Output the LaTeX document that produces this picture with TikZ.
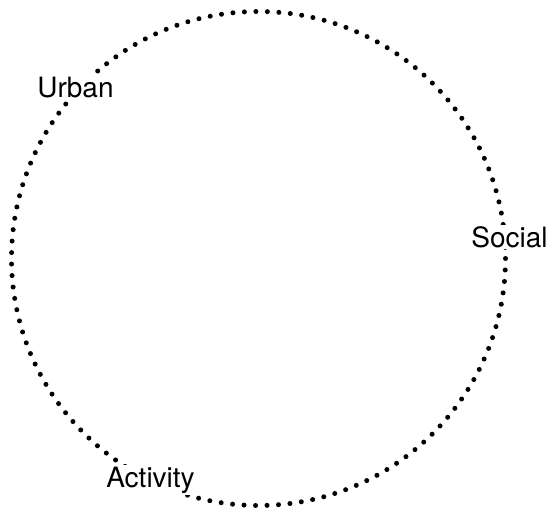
\documentclass[tikz,border=0pt]{standalone}
\usepackage{fontspec}
\setmainfont{TeX Gyre Heros}
\begin{document}
\begin{tikzpicture}[
  x=1pt, y=-1pt,
  ring/.style={line width=5pt, line cap=round, dash pattern=on 0pt off 11.5pt},
  theme/.style={fill=white, inner sep=1.5pt, anchor=base, font=\fontsize{28}{31}\selectfont}
]
  \useasboundingbox (0,0) rectangle (549,511);

  % ===== Dotted ring =====
  \draw[ring] (258.5,258.5) circle[radius=247];

  % ===== Labels on the ring =====
  \node[theme] (urban) at (75.5,97) {Urban};
  \node[theme] (social) at (509.5,247) {Social};
  \node[theme] (activity) at (150.5,487) {Activity};
\end{tikzpicture}
\end{document}
